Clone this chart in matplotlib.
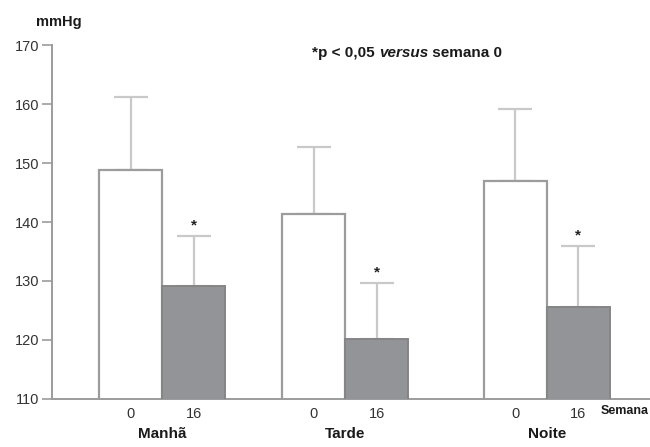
import matplotlib
matplotlib.use("Agg")
import matplotlib.pyplot as plt
import numpy as np

# mean systolic pressure (mmHg) at week 0 and week 16, with upper SD
periods = ["Manhã", "Tarde", "Noite"]
weeks = ["0", "16"]
week0_mean = [148.8, 141.4, 147.0]
week0_sd = [12.4, 11.3, 12.1]
week16_mean = [129.1, 120.1, 125.6]
week16_sd = [8.6, 9.6, 10.3]
significant = [True, True, True]

plt.rcParams["font.family"] = ["Liberation Sans", "DejaVu Sans"]

group_pos = np.array([1.75, 4.65, 7.85])
width = 1.0

fig = plt.figure(figsize=(6.5, 4.47), dpi=100)
ax = fig.add_axes([0.08, 0.1074, 0.92, 0.7919])

edge = "#9c9c9c"
ink = "#1a1a1a"
err_kw = dict(ecolor="#c9c9c9", elinewidth=1.6, capsize=11.9, capthick=1.6)

x0 = group_pos - width / 2
x16 = group_pos + width / 2
ax.bar(x0, week0_mean, width, color="white", edgecolor=edge,
       linewidth=1.6, zorder=2)
ax.errorbar(x0, week0_mean, yerr=[np.zeros(3), week0_sd], fmt="none",
            zorder=1, **err_kw)
ax.bar(x16, week16_mean, width, color="#939497", edgecolor="#858585",
       linewidth=1.4, zorder=3)
ax.errorbar(x16, week16_mean, yerr=[np.zeros(3), week16_sd], fmt="none",
            zorder=1, **err_kw)

for x, m, s, sig in zip(x16, week16_mean, week16_sd, significant):
    if sig:
        ax.text(x, m + s + 0.6, "*", ha="center", va="bottom", fontsize=11,
                fontweight="bold", color="#222222")

ax.set_ylim(110, 170)
ax.set_xlim(0, 9.49)
ax.set_yticks(np.arange(110, 171, 10))
ax.tick_params(axis="y", length=7, width=1.2, color=edge, labelsize=10.5,
               labelcolor="#333333", pad=2)

ticks = np.concatenate([x0, x16])
labels = [weeks[0]] * 3 + [weeks[1]] * 3
ax.set_xticks(ticks)
ax.set_xticklabels(labels)
ax.tick_params(axis="x", length=0, labelsize=10.5, labelcolor="#333333", pad=6)

for side in ["top", "right"]:
    ax.spines[side].set_visible(False)
for side in ["left", "bottom"]:
    ax.spines[side].set_color(edge)
    ax.spines[side].set_linewidth(1.4)

for x, name in zip(group_pos, periods):
    ax.text(x, -0.1, name, transform=ax.get_xaxis_transform(), ha="center",
            va="center", fontsize=11, fontweight="bold", color=ink)

ax.text(0.918, -0.035, "Semana", transform=ax.transAxes, ha="left", va="center",
        fontsize=9, fontweight="bold", color=ink)
fig.text(0.056, 0.951, "mmHg", ha="left", va="center", fontsize=10.5,
         fontweight="bold", color=ink)

t1 = fig.text(0.48, 0.872, "*p < 0,05 ", ha="left", va="baseline",
              fontsize=11, fontweight="bold", color=ink)
t2 = ax.annotate("versus", xy=(1, 0), xycoords=t1, ha="left", va="bottom",
                 fontsize=11, fontweight="bold", fontstyle="italic", color=ink)
ax.annotate(" semana 0", xy=(1, 0), xycoords=t2, ha="left", va="bottom",
            fontsize=11, fontweight="bold", color=ink)

fig.savefig("out.png", dpi=100)
